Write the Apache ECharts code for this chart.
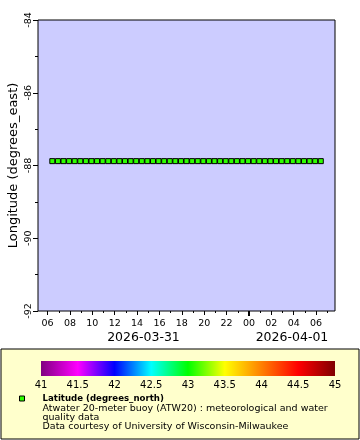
<!DOCTYPE html>
<html><head><meta charset="utf-8">
<script src="https://cdn.jsdelivr.net/npm/echarts@6/dist/echarts.min.js"></script>
<style>html,body{margin:0;padding:0;background:#fff}#c{width:360px;height:440px}</style>
</head><body><div id="c"></div>
<script>
// hours since 2026-03-31 00:00
var times = [];
for (var k = 0; k < 49; k++) times.push(6.42 + 0.5 * k);
var longitudes = [-87.88,-87.88,-87.88,-87.88,-87.88,-87.88,-87.88,-87.88,-87.88,-87.88,
-87.88,-87.88,-87.88,-87.88,-87.88,-87.88,-87.88,-87.88,-87.88,-87.88,
-87.88,-87.88,-87.88,-87.88,-87.88,-87.88,-87.88,-87.88,-87.88,-87.88,
-87.88,-87.88,-87.88,-87.88,-87.88,-87.88,-87.88,-87.88,-87.88,-87.88,
-87.88,-87.88,-87.88,-87.88,-87.88,-87.88,-87.88,-87.88,-87.88];
var latitudes = longitudes.map(function(){return 43.09;});
var xMajorTicks = [6,8,10,12,14,16,18,20,22,24,26,28,30];
var xMinorTicks = [6,7,8,9,10,11,12,13,14,15,16,17,18,19,20,21,22,23,24,25,26,27,28,29,30,31];
var dayLabels = ['2026-03-31','2026-04-01'];
var colorStops = ['#800080','#ff00ff','#0000ff','#00ffff','#00ff00','#ffff00','#ff8000','#ff0000','#800000'];
var legendLines = ['Atwater 20-meter buoy (ATW20) : meteorological and water','quality data','Data courtesy of University of Wisconsin-Milwaukee'];

var X_MIN = 5.14, X_MAX = 31.69;
var F = 'DejaVu Sans';
var data = times.map(function(t,i){return [t, longitudes[i], latitudes[i]];});
function pad(v){v = ((v % 24) + 24) % 24; return (v < 10 ? '0' : '') + v;}

var chart = echarts.init(document.getElementById('c'), null, {renderer:'canvas'});
var gradStops = colorStops.map(function(c,i){return {offset:i/(colorStops.length-1), color:c};});
var graphics = [
  {type:'rect', z:-1, shape:{x:1,y:349,width:358,height:90}, style:{fill:'#ffffcc', stroke:'#000', lineWidth:1}},
  {type:'rect', z:5, shape:{x:41,y:361,width:294,height:15}, style:{fill:new echarts.graphic.LinearGradient(0,0,1,0,gradStops)}},
  {type:'rect', z:5, shape:{x:19.5,y:396,width:5,height:5}, style:{fill:'#2eff00', stroke:'#000', lineWidth:1}},
  {type:'text', z:5, x:42.5, y:398.5, style:{text:'Latitude (degrees_north)', font:'bold 8.6px "DejaVu Sans"', fill:'#000', verticalAlign:'middle'}}
];
legendLines.forEach(function(s,i){
  graphics.push({type:'text', z:5, x:42.5, y:408.5 + i*9.2, style:{text:s, font:'9.5px "DejaVu Sans"', fill:'#000', verticalAlign:'middle'}});
});

chart.setOption({
  animation:false,
  backgroundColor:'#fff',
  grid:[
    {left:38, top:20, width:297, height:291, show:true, backgroundColor:'#ccccff', borderColor:'#000', borderWidth:1, z:0, outerBoundsMode:'none', containLabel:false},
    {left:41, top:361, width:294, height:15, show:false, outerBoundsMode:'none', containLabel:false}
  ],
  visualMap:{show:false, type:'continuous', dimension:2, min:41, max:45, seriesIndex:0, inRange:{color:colorStops}},
  xAxis:[
    {type:'value', gridIndex:0, min:X_MIN, max:X_MAX, position:'bottom',
     axisLine:{show:false}, splitLine:{show:false},
     axisTick:{show:true, customValues:xMajorTicks, length:4, lineStyle:{color:'#000'}},
     axisLabel:{customValues:xMajorTicks, formatter:function(v){return pad(v);}, fontFamily:F, fontSize:9.5, color:'#000', margin:8}},
    {type:'value', gridIndex:0, min:X_MIN, max:X_MAX, position:'bottom',
     axisLine:{show:false}, splitLine:{show:false},
     axisTick:{show:true, customValues:xMinorTicks, length:2, lineStyle:{color:'#000'}},
     axisLabel:{show:false}},
    {type:'value', gridIndex:0, min:X_MIN, max:X_MAX, position:'bottom',
     axisLine:{show:false}, splitLine:{show:false},
     axisTick:{show:true, customValues:[24], length:5, lineStyle:{color:'#000', width:2}},
     axisLabel:{show:false}},
    {type:'value', gridIndex:0, min:X_MIN, max:X_MAX, position:'bottom', offset:16,
     axisLine:{show:false}, splitLine:{show:false}, axisTick:{show:false},
     axisLabel:{customValues:[(X_MIN+24)/2, (24+X_MAX)/2], formatter:function(v){return v < 24 ? dayLabels[0] : dayLabels[1];}, fontFamily:F, fontSize:12.5, color:'#000', margin:4}},
    {type:'value', gridIndex:1, min:41, max:45, interval:0.5, position:'bottom',
     axisLine:{show:false}, splitLine:{show:false}, axisTick:{show:false},
     axisLabel:{fontFamily:F, fontSize:10, color:'#000', margin:4, formatter:function(v){return String(v);}}}
  ],
  yAxis:[
    {type:'value', gridIndex:0, min:-92, max:-84, interval:2,
     name:'Longitude (degrees_east)', nameLocation:'middle', nameGap:18, nameMoveOverlap:false, nameTextStyle:{fontFamily:F, fontSize:13, color:'#000'},
     axisLine:{show:false}, splitLine:{show:false},
     axisTick:{show:true, length:5, lineStyle:{color:'#000'}},
     minorTick:{show:true, splitNumber:2, length:3, lineStyle:{color:'#000'}},
     axisLabel:{rotate:90, fontFamily:F, fontSize:9.5, color:'#000', margin:4}},
    {type:'value', gridIndex:1, show:false, min:0, max:1}
  ],
  series:[
    {type:'scatter', xAxisIndex:0, yAxisIndex:0, data:data, symbol:'rect', symbolSize:5,
     itemStyle:{borderColor:'#000', borderWidth:1, opacity:1}, z:3}
  ],
  graphic:graphics
});
</script></body></html>
